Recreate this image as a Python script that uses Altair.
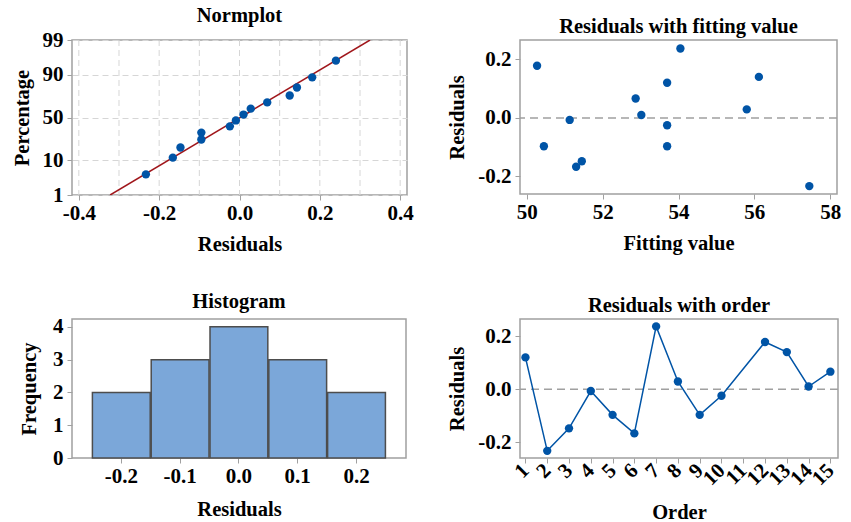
import altair as alt
import pandas as pd
from statistics import NormalDist

# ---------------- data ----------------
order = [1, 2, 3, 4, 5, 6, 7, 8, 9, 10, 12, 13, 14, 15]
residuals = [0.120, -0.233, -0.148, -0.007, -0.097, -0.167, 0.237, 0.029,
             -0.097, -0.025, 0.178, 0.140, 0.010, 0.066]
fitted = [53.70, 57.45, 51.45, 51.13, 53.70, 51.30, 54.05, 55.80,
          50.45, 53.70, 50.27, 56.12, 53.02, 52.87]

# normal probability plot (sorted residuals and plotting percentages)
norm_res = [-0.233, -0.166, -0.147, -0.095, -0.095, -0.024, -0.009, 0.010,
            0.028, 0.069, 0.125, 0.143, 0.181, 0.240]
norm_pct = [4.4, 11.4, 18.4, 25.4, 32.5, 39.5, 46.5, 53.5, 60.5, 67.5,
            74.6, 81.6, 88.6, 95.6]
fit_line_x = [-0.322, 0.325]
fit_line_pct = [1, 99]
pct_ticks = [1, 10, 50, 90, 99]
norm_x_grid = [-0.4, -0.3, -0.2, -0.1, 0.0, 0.1, 0.2, 0.3, 0.4]
norm_x_ticks = [-0.4, -0.2, 0.0, 0.2, 0.4]
res_ticks = [-0.2, -0.1, 0.0, 0.1, 0.2]
fit_ticks = [50, 52, 54, 56, 58]
freq_ticks = [0, 1, 2, 3, 4]
order_ticks = list(range(1, 16))

BLUE = "#0054A6"
RED = "#A0161B"
GRAY = "#A0A0A0"
FONT = "Liberation Serif"

nd = NormalDist()
z_ticks = [nd.inv_cdf(p / 100) for p in pct_ticks]
zlo, zhi = z_ticks[0], z_ticks[-1]

df = pd.DataFrame({"order": order, "res": residuals, "fit": fitted})
norm_df = pd.DataFrame({"res": norm_res, "z": [nd.inv_cdf(p / 100) for p in norm_pct]})
line_df = pd.DataFrame({"res": fit_line_x, "z": [nd.inv_cdf(p / 100) for p in fit_line_pct]})
grid_df = pd.DataFrame({"gx": norm_x_grid})
zero_df = pd.DataFrame({"y": [0.0]})

# label each probability tick with its percentage (ticks sorted ascending)
bounds = [(a + b) / 2 for a, b in zip(z_ticks[:-1], z_ticks[1:])]
label_map = "".join(
    f"datum.value < {b:.4f} ? '{p}' : " for b, p in zip(bounds, pct_ticks[:-1])
) + f"'{pct_ticks[-1]}'"
dec1 = "replace(format(datum.value, '.1f'), '\u2212', '-')"

# ---------------- Normplot ----------------
xs_norm = alt.Scale(domain=[-0.417, 0.417], nice=False, zero=False)
ys_norm = alt.Scale(domain=[zlo, zhi], nice=False, zero=False)

grid_v = alt.Chart(grid_df).mark_rule(color="#D6D6D6", strokeDash=[6, 4], strokeWidth=1).encode(
    x=alt.X("gx:Q", scale=xs_norm)
)
y_norm_axis = alt.Axis(values=z_ticks, labelExpr=label_map, grid=True, labelOverlap=False,
                       gridColor="#D6D6D6", gridDash=[6, 4], titlePadding=10)
pts_norm = alt.Chart(norm_df).mark_circle(size=70, color=BLUE, opacity=1).encode(
    x=alt.X("res:Q", scale=xs_norm, title="Residuals",
            axis=alt.Axis(values=norm_x_ticks, labelExpr=dec1, titlePadding=11)),
    y=alt.Y("z:Q", scale=ys_norm, title="Percentage", axis=y_norm_axis),
)
line_norm = alt.Chart(line_df).mark_line(color=RED, strokeWidth=1.5, clip=True).encode(
    x=alt.X("res:Q", scale=xs_norm, title="Residuals",
            axis=alt.Axis(values=norm_x_ticks, labelExpr=dec1, titlePadding=11)),
    y=alt.Y("z:Q", scale=ys_norm, title="Percentage", axis=y_norm_axis),
)
normplot = alt.layer(grid_v, line_norm, pts_norm).properties(
    width=335, height=155, title="Normplot"
)

# ---------------- Residuals vs fit ----------------
ys_res = alt.Scale(domain=[-0.26, 0.266], nice=False, zero=False)
zero_rule = alt.Chart(zero_df).mark_rule(color=GRAY, strokeDash=[8, 5], strokeWidth=1.5).encode(
    y=alt.Y("y:Q", scale=ys_res)
)
pts_fit = alt.Chart(df).mark_circle(size=70, color=BLUE, opacity=1).encode(
    x=alt.X("fit:Q", scale=alt.Scale(domain=[49.82, 58.18], nice=False, zero=False),
            title="Fitting value", axis=alt.Axis(values=fit_ticks, titlePadding=11)),
    y=alt.Y("res:Q", scale=ys_res, title="Residuals",
            axis=alt.Axis(values=res_ticks, labelExpr=dec1, titlePadding=10)),
)
resfit = alt.layer(zero_rule, pts_fit).properties(
    width=317, height=154, title="Residuals with fitting value"
)

# ---------------- Histogram ----------------
hist = alt.Chart(df).mark_bar(color="#7BA7D9", stroke="#4D4D4D", strokeWidth=1.5, opacity=1).encode(
    x=alt.X("res:Q", bin=alt.Bin(extent=[-0.25, 0.25], step=0.1, nice=False),
            scale=alt.Scale(domain=[-0.283, 0.285], nice=False, zero=False),
            title="Residuals",
            axis=alt.Axis(values=res_ticks, labelExpr=dec1, titlePadding=13)),
    y=alt.Y("count():Q", scale=alt.Scale(domain=[0, 4.24], nice=False), title="Frequency",
            axis=alt.Axis(values=freq_ticks, titlePadding=13)),
).properties(width=334, height=139, title="Histogram")

# ---------------- Residuals vs order ----------------
ys_ord = alt.Scale(domain=[-0.26, 0.265], nice=False, zero=False)
xs_ord = alt.Scale(domain=[0.75, 15.35], nice=False, zero=False)
zero_rule2 = alt.Chart(zero_df).mark_rule(color=GRAY, strokeDash=[8, 5], strokeWidth=1.5).encode(
    y=alt.Y("y:Q", scale=ys_ord)
)
line_ord = alt.Chart(df).mark_line(
    color=BLUE, strokeWidth=1.5,
    point=alt.OverlayMarkDef(size=70, color=BLUE, filled=True, opacity=1)
).encode(
    x=alt.X("order:Q", scale=xs_ord, title="Order",
            axis=alt.Axis(values=order_ticks, labelAngle=-45, labelAlign="right",
                          labelBaseline="middle", labelPadding=4, titlePadding=14)),
    y=alt.Y("res:Q", scale=ys_ord, title="Residuals",
            axis=alt.Axis(values=res_ticks, labelExpr=dec1, titlePadding=10)),
)
resord = alt.layer(zero_rule2, line_ord).properties(
    width=318, height=139, title="Residuals with order"
)

chart = alt.concat(
    normplot, resfit, hist, resord,
    columns=2, bounds="flush", spacing={"row": 124, "column": 113}
).properties(
    padding={"left": 11, "top": 4, "right": 5, "bottom": 0}
).configure_view(
    stroke=GRAY, strokeWidth=1.5
).configure_axis(
    labelFont=FONT, labelFontSize=21, labelFontWeight="bold", labelColor="black",
    titleFont=FONT, titleFontSize=20.5, titleFontWeight="bold", titleColor="black",
    domain=False, tickColor=GRAY, tickSize=5, grid=False,
    labelFlush=False, labelOverlap=False
).configure_axisX(
    labelPadding=2
).configure_axisY(
    labelPadding=4
).configure_title(
    font=FONT, fontSize=20.5, fontWeight="bold", color="black", offset=3
)

chart.save("out.html", embed_options={"renderer": "svg", "actions": False})
